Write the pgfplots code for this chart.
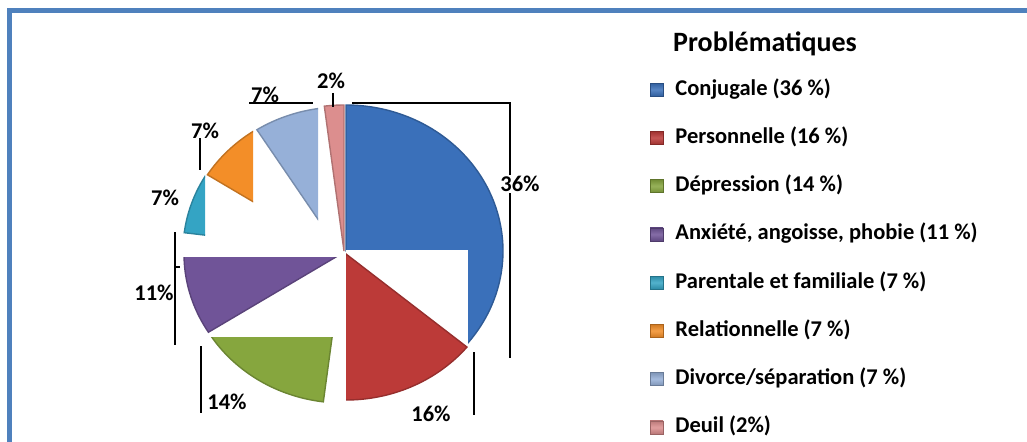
\documentclass[border=0pt]{standalone}
\usepackage{fontspec}
\setmainfont{Carlito}
\usepackage{pgfplots}
\pgfplotsset{compat=1.18}

\definecolor{cConj}{RGB}{58,112,186}
\definecolor{cPers}{RGB}{188,58,56}
\definecolor{cDep}{RGB}{134,166,62}
\definecolor{cAnx}{RGB}{112,84,152}
\definecolor{cPar}{RGB}{52,164,196}
\definecolor{cRel}{RGB}{243,142,40}
\definecolor{cDiv}{RGB}{150,176,216}
\definecolor{cDeu}{RGB}{220,142,142}
\definecolor{frameblue}{RGB}{79,129,189}

\newcommand{\lbl}{\fontsize{22.5bp}{27bp}\selectfont\bfseries}

% Shares (%): Conjugale 36, Personnelle 16, Depression 14, Anxiete 11,
% Parentale 7, Relationnelle 7, Divorce 7, Deuil 2  -> angles = pct*3.6 (clockwise from top)

\begin{document}
\begin{tikzpicture}
\begin{axis}[
  hide axis, scale only axis, width=1027bp, height=442bp,
  xmin=0, xmax=1027, ymin=0, ymax=442, y dir=reverse,
  legend image code/.code={\fill[#1] (0bp,-6.5bp) rectangle (13bp,6.5bp); \path (25bp,0bp);},
  legend cell align=left,
  legend style={at={(axis cs:650,79)}, anchor=north west, draw=none, fill=none,
    inner sep=0pt, outer sep=0pt, row sep=27.25bp, font=\lbl,
    nodes={inner sep=0pt, text height=16bp, text depth=5bp}},
  slice/.style={forget plot, line width=1.4bp, samples=90, variable=\t},
  icon/.style={top color=#1!85!black, bottom color=#1!85!black, middle color=#1!85!white, draw=#1!70!black, line width=0.4bp},
]
% full canvas (keeps the picture at the size of the axis)
\addplot[forget plot, draw=none] coordinates {(0,0) (1027,442)};
% frame
\addplot[forget plot, frameblue, line width=4.5bp] coordinates {(9.5,442) (9.5,10.3) (1027,10.3)};

% Conjugale 36 %
\addplot[slice, fill=cConj, draw=cConj!80!black, domain=0:129.6]
  ({346+157*sin(t)},{251-146*cos(t)}) -- (axis cs:346,251) -- cycle;
\addplot[forget plot, fill=white, draw=none] coordinates {(346,250) (468,250) (468,350) (346,350)} -- cycle;

% Personnelle 16 %
\begin{scope}
\clip (axis cs:346,240) rectangle (axis cs:490,420);
\addplot[slice, fill=cPers, draw=cPers!80!black, domain=129.6:187.2]
  ({346+157*sin(t)},{254-146*cos(t)}) -- (axis cs:346,254) -- cycle;
\end{scope}

% Depression 14 %
\begin{scope}
\clip (axis cs:150,337) rectangle (axis cs:345,420);
\addplot[slice, fill=cDep, draw=cDep!80!black, domain=187.2:237.6]
  ({343+157*sin(t)},{257-146*cos(t)}) -- (axis cs:343,257) -- cycle;
\end{scope}

% Anxiete 11 %
\begin{scope}
\clip (axis cs:150,257) rectangle (axis cs:345,345);
\addplot[slice, fill=cAnx, draw=cAnx!80!black, domain=237.6:277.2]
  ({341+157*sin(t)},{254-146*cos(t)}) -- (axis cs:341,254) -- cycle;
\end{scope}

% Parentale 7 %
\begin{scope}
\clip (axis cs:150,150) rectangle (axis cs:205,237);
\addplot[slice, fill=cPar, draw=cPar!80!black, domain=277.2:302.4]
  ({340+157*sin(t)},{251-146*cos(t)}) -- (axis cs:340,251) -- cycle;
\end{scope}

% Relationnelle 7 %
\begin{scope}
\clip (axis cs:180,100) rectangle (axis cs:253,240);
\addplot[slice, fill=cRel, draw=cRel!80!black, domain=302.4:327.6]
  ({340+157*sin(t)},{253-146*cos(t)}) -- (axis cs:340,253) -- cycle;
\end{scope}

% Divorce 7 %
\begin{scope}
\clip (axis cs:200,90) rectangle (axis cs:318,260);
\addplot[slice, fill=cDiv, draw=cDiv!80!black, domain=327.6:352.8]
  ({341+157*sin(t)},{253-146*cos(t)}) -- (axis cs:341,253) -- cycle;
\end{scope}

% Deuil 2 %
\addplot[slice, fill=cDeu, draw=cDeu!80!black, domain=352.8:360]
  ({344+157*sin(t)},{251-146*cos(t)}) -- (axis cs:344,251) -- cycle;

% leader lines
\addplot[forget plot, black, line width=1.2bp] coordinates {(352,103) (510,103) (510,358)};
\addplot[forget plot, black, line width=1.2bp] coordinates {(333,93) (333,107)};
\addplot[forget plot, black, line width=1.2bp] coordinates {(249,103) (313,103)};
\addplot[forget plot, black, line width=1.2bp] coordinates {(200,138) (200,170)};
\addplot[forget plot, black, line width=1.2bp] coordinates {(175,232) (175,345)};
\addplot[forget plot, black, line width=1.2bp] coordinates {(175,267) (180,267)};
\addplot[forget plot, black, line width=1.2bp] coordinates {(201,346) (201,413)};
\addplot[forget plot, black, line width=1.2bp] coordinates {(474,352) (474,415)};

% data labels
\node[font=\lbl, fill=white, inner sep=1bp] at (axis cs:520,184) {36\%};
\node[font=\lbl] at (axis cs:431,414) {16\%};
\node[font=\lbl] at (axis cs:227,402) {14\%};
\node[font=\lbl] at (axis cs:154,293) {11\%};
\node[font=\lbl] at (axis cs:165,198) {7\%};
\node[font=\lbl] at (axis cs:205,131) {7\%};
\node[font=\lbl] at (axis cs:265,95) {7\%};
\node[font=\lbl] at (axis cs:331,81) {2\%};

% legend title
\node[font=\fontsize{28bp}{32bp}\selectfont\bfseries] at (axis cs:765,44) {Problématiques};

% legend
\addlegendimage{icon=cConj}
\addlegendentry{Conjugale (36 \%)}
\addlegendimage{icon=cPers}
\addlegendentry{Personnelle (16 \%)}
\addlegendimage{icon=cDep}
\addlegendentry{Dépression (14 \%)}
\addlegendimage{icon=cAnx}
\addlegendentry{Anxiété, angoisse, phobie (11 \%)}
\addlegendimage{icon=cPar}
\addlegendentry{Parentale et familiale (7 \%)}
\addlegendimage{icon=cRel}
\addlegendentry{Relationnelle (7 \%)}
\addlegendimage{icon=cDiv}
\addlegendentry{Divorce/séparation (7 \%)}
\addlegendimage{icon=cDeu}
\addlegendentry{Deuil (2\%)}
\end{axis}
\end{tikzpicture}
\end{document}
